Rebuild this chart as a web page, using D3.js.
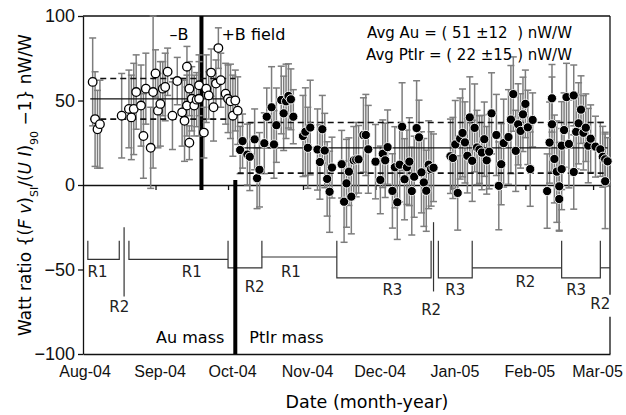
<!DOCTYPE html>
<html>
<head>
<meta charset="utf-8">
<script src="https://cdn.jsdelivr.net/npm/d3@7"></script>
<style>
  body { margin: 0; background: #fff; }
  svg { display: block; font-family: "DejaVu Sans", sans-serif; }
</style>
</head>
<body>
<svg id="chart" width="626" height="415"></svg>
<script>
// Au mass (open circles)
const auDates = ["2004-08-06","2004-08-07","2004-08-08","2004-08-09","2004-08-18","2004-08-21","2004-08-22","2004-08-23","2004-08-24","2004-08-26","2004-08-27","2004-08-28","2004-08-30","2004-08-31",
  "2004-09-01","2004-09-02","2004-09-03","2004-09-04","2004-09-05","2004-09-06","2004-09-08","2004-09-10","2004-09-12","2004-09-13","2004-09-14","2004-09-14","2004-09-15","2004-09-15","2004-09-16","2004-09-17","2004-09-18","2004-09-19","2004-09-19",
  "2004-09-21","2004-09-22","2004-09-23","2004-09-24","2004-09-25","2004-09-26","2004-09-27","2004-09-28","2004-09-30","2004-10-01","2004-10-02","2004-10-03","2004-10-04","2004-10-05"];
const auValues = [61,39,33,36,41,45,40,45,55,47,29,57,22,55,
  66,44,48,57,58,67,41,61.5,43,38,47,70,57,25,51,47,50.5,59,51,
  31,57,53,66.5,46,60,81,62,54,51,49.5,41,50,44];
const auErrors = [26,28,23,26,25,23,25,27,22,24,25,21,24,45,
  14,22,25,16,20,14,20,14,20,24,18,12,16,10,19,18,16,18,22,
  15,20,14,14,20,14,12,16,18,20,22,24,18,20];

// PtIr mass (filled circles)
const ptDates = ["2004-10-06","2004-10-07","2004-10-09","2004-10-10","2004-10-12","2004-10-13","2004-10-14","2004-10-16","2004-10-17","2004-10-19","2004-10-20","2004-10-21","2004-10-23","2004-10-24","2004-10-25","2004-10-26","2004-10-27","2004-10-28",
  "2004-11-01","2004-11-02","2004-11-03","2004-11-04","2004-11-07","2004-11-08","2004-11-09","2004-11-10","2004-11-11","2004-11-12","2004-11-13","2004-11-17","2004-11-18","2004-11-19","2004-11-20","2004-11-21","2004-11-22","2004-11-23","2004-11-24","2004-11-26","2004-11-27","2004-11-28",
  "2004-12-01","2004-12-03","2004-12-04","2004-12-05","2004-12-06","2004-12-08","2004-12-09","2004-12-10","2004-12-11","2004-12-12","2004-12-13","2004-12-14","2004-12-15","2004-12-16","2004-12-17","2004-12-18","2004-12-19","2004-12-20","2004-12-21","2004-12-22","2004-12-23","2004-12-24","2004-12-25",
  "2005-01-01","2005-01-02","2005-01-03","2005-01-04","2005-01-05","2005-01-06","2005-01-07","2005-01-08","2005-01-09","2005-01-10","2005-01-11","2005-01-12","2005-01-13","2005-01-14","2005-01-15","2005-01-16","2005-01-17","2005-01-18","2005-01-20","2005-01-21","2005-01-22","2005-01-23","2005-01-25","2005-01-26","2005-01-27","2005-01-28","2005-01-29","2005-01-30","2005-01-31",
  "2005-02-01","2005-02-02","2005-02-03","2005-02-04","2005-02-10","2005-02-11","2005-02-12","2005-02-12","2005-02-13","2005-02-14","2005-02-15","2005-02-15","2005-02-16","2005-02-16","2005-02-17","2005-02-18","2005-02-19","2005-02-21","2005-02-21","2005-02-22","2005-02-23","2005-02-24","2005-02-25","2005-02-26","2005-02-27","2005-02-28",
  "2005-03-02","2005-03-04","2005-03-05","2005-03-06","2005-03-06","2005-03-07"];
const ptValues = [20.7,26,18,16.7,27,4,9,24.7,40.4,46,24,35.4,50.3,42.4,49.5,52.7,50.7,40.4,
  29,31.5,22,34,21,13.6,33,20.4,3.6,-4,10.3,12.3,-9.9,1,7.9,-6.9,14.6,15,15.2,29.6,29.6,21.1,
  13.8,3,18.5,14.6,22.4,-3.5,10.5,-10.2,12,34.5,3.4,10.5,13.8,-3.6,4.9,33.7,28.2,7.5,1.5,-3.4,12,9.5,10.2,
  17,16,24,-4.7,27.5,30.8,25.2,17.3,40,14.3,33.8,22.2,21,19.2,27.1,14.6,19.7,42.4,29.6,-0.5,12.3,24.8,28.4,38.7,53.8,20.2,35.9,32,41.8,
  48,34.1,9.4,38.5,-3.6,25.1,35.9,51.3,15.4,7.9,-0.8,-8.3,23.3,9.4,32.5,52,24.3,7.7,53,31.5,36.5,44.6,30.9,33.9,23.3,27.4,
  22.7,21.1,16.7,15.2,2.2,14];
const ptErrors = [14,16,18,20,18,18,22,18,17,24,20,22,20,22,22,19,18,16,
  24,26,24,28,24,22,20,22,22,24,18,20,24,26,20,22,20,22,20,22,24,26,
  22,20,20,22,22,22,24,22,22,26,24,22,26,26,24,28,22,24,26,24,26,22,20,
  22,24,26,22,24,26,24,22,24,24,26,22,20,22,22,20,22,24,24,26,24,26,28,32,22,24,24,22,22,
  20,22,22,16,22,24,28,20,26,30,26,19,26,24,22,20,26,22,18,22,24,20,22,20,22,20,
  18,16,18,16,28,14];

const auMean = 51, auSd = 12;
const ptMean = 22, ptSd = 15;
const auSpan = ["2004-08-05", "2004-10-04"];
const ptSpan = ["2004-10-05", "2005-03-07"];
const fieldChange = "2004-09-20";
const massChange = "2004-10-04";

const monthStarts = ["2004-08-01","2004-09-01","2004-10-01","2004-11-01","2004-12-01","2005-01-01","2005-02-01","2005-03-01"];
const monthLabels = ["Aug-04","Sep-04","Oct-04","Nov-04","Dec-04","Jan-05","Feb-05","Mar-05"];
const yTicks = [-100, -50, 0, 50, 100];

// run brackets (date, value) and their labels
const runLines = [
  [["2004-08-04",-33],["2004-08-04",-44],["2004-08-17",-44],["2004-08-17",-33]],
  [["2004-08-19",-25],["2004-08-19",-66]],
  [["2004-08-21",-33],["2004-08-21",-44],["2004-10-01",-44]],
  [["2004-10-01",-33],["2004-10-01",-49],["2004-10-15",-49],["2004-10-15",-33]],
  [["2004-10-15",-42.6],["2004-11-15",-42.6]],
  [["2004-11-15",-33],["2004-11-15",-55],["2004-12-24",-55],["2004-12-24",-33]],
  [["2004-12-25",-22],["2004-12-25",-63]],
  [["2004-12-27",-33],["2004-12-27",-55],["2005-01-10",-55],["2005-01-10",-33]],
  [["2005-01-10",-49],["2005-02-16",-49]],
  [["2005-02-16",-33],["2005-02-16",-55],["2005-03-04",-55],["2005-03-04",-33]],
  [["2005-03-04",-49],["2005-03-08",-49]]
];
const runLabels = ["R1","R2","R1","R2","R1","R3","R2","R3","R2","R3","R2"];
const runLabelDates = ["2004-08-08","2004-08-17","2004-09-16","2004-10-12","2004-10-27","2004-12-08","2004-12-24","2005-01-03","2005-02-01","2005-02-22","2005-03-04"];
const runLabelValues = [-54.4,-75,-54.4,-63.3,-54.4,-65,-77,-65,-60.4,-65,-73.4];

const parse = d3.timeParse("%Y-%m-%d");
const svg = d3.select("#chart");

const x = d3.scaleTime()
  .domain([parse("2004-08-02"), parse("2005-03-08")])
  .range([83, 610]);
const y = d3.scaleLinear().domain([-100, 100]).range([354, 16]);

const black = "#111";
const grey = "#7d7d7d";

// frame: top and right border (right one broken round the last R2 label)
svg.append("line")
  .attr("x1", x.range()[0]).attr("x2", x.range()[1])
  .attr("y1", y(100)).attr("y2", y(100))
  .attr("stroke", black).attr("stroke-width", 1.3);
[[100, -65], [-78, -100]].forEach(([a, b]) => {
  svg.append("line")
    .attr("x1", x.range()[1]).attr("x2", x.range()[1])
    .attr("y1", y(a)).attr("y2", y(b))
    .attr("stroke", black).attr("stroke-width", 1.3);
});

// y axis
const yAxis = svg.append("g")
  .attr("transform", `translate(${x.range()[0]},0)`)
  .call(d3.axisLeft(y).tickValues(yTicks).tickSize(5).tickSizeOuter(0).tickPadding(3).tickFormat(d3.format("d")));
yAxis.selectAll("text").style("font-size", "18px").attr("fill", black);

// zero line with month ticks
svg.append("g")
  .attr("transform", `translate(0,${y(0)})`)
  .call(d3.axisBottom(x).tickValues(monthStarts.slice(1).map(parse)).tickSize(5).tickSizeOuter(0).tickFormat(""));

// bottom axis with month labels
const xAxis = svg.append("g")
  .attr("transform", `translate(0,${y(-100)})`)
  .call(d3.axisBottom(x).tickValues(monthStarts.map(parse)).tickSize(0).tickSizeOuter(0).tickPadding(12)
    .tickFormat((d, i) => monthLabels[i]));
xAxis.selectAll("text").style("font-size", "16px").attr("dx", 4).attr("fill", black);

svg.selectAll(".domain, .tick line").attr("stroke", black).attr("stroke-width", 1.3);

// run brackets
const runLine = d3.line().x(d => x(parse(d[0]))).y(d => y(d[1]));
svg.append("g").selectAll("path")
  .data(runLines)
  .join("path")
  .attr("d", runLine)
  .attr("fill", "none")
  .attr("stroke", "#333")
  .attr("stroke-width", 1.2);

svg.append("g").selectAll("text")
  .data(runLabels)
  .join("text")
  .attr("x", (d, i) => x(parse(runLabelDates[i])))
  .attr("y", (d, i) => y(runLabelValues[i]))
  .attr("text-anchor", "middle")
  .style("font-size", "15px")
  .attr("fill", "#222")
  .text(d => d);

// field and mass dividers
svg.append("line")
  .attr("x1", x(parse(fieldChange))).attr("x2", x(parse(fieldChange)))
  .attr("y1", y(100)).attr("y2", y(-3))
  .attr("stroke", "#000").attr("stroke-width", 4);
svg.append("line")
  .attr("x1", x(parse(massChange))).attr("x2", x(parse(massChange)))
  .attr("y1", y(3)).attr("y2", y(-100))
  .attr("stroke", "#000").attr("stroke-width", 4);

// error bars
const au = auDates.map((d, i) => ({ date: parse(d), value: auValues[i], err: auErrors[i] }));
const pt = ptDates.map((d, i) => ({ date: parse(d), value: ptValues[i], err: ptErrors[i] }));

function drawErrors(data) {
  const g = svg.append("g").attr("stroke", grey).attr("stroke-width", 1.5);
  const bars = g.selectAll("g").data(data).join("g");
  bars.append("line")
    .attr("x1", d => x(d.date)).attr("x2", d => x(d.date))
    .attr("y1", d => y(d.value - d.err)).attr("y2", d => y(d.value + d.err));
  bars.append("line")
    .attr("x1", d => x(d.date) - 3.5).attr("x2", d => x(d.date) + 3.5)
    .attr("y1", d => y(d.value + d.err)).attr("y2", d => y(d.value + d.err));
  bars.append("line")
    .attr("x1", d => x(d.date) - 3.5).attr("x2", d => x(d.date) + 3.5)
    .attr("y1", d => y(d.value - d.err)).attr("y2", d => y(d.value - d.err));
}
drawErrors(au);
drawErrors(pt);

// mean and +-1 sd lines
function meanLines(span, mean, sd) {
  const x1 = x(parse(span[0])), x2 = x(parse(span[1]));
  [[mean, null], [mean + sd, "6,4"], [mean - sd, "6,4"]].forEach(([v, dash]) => {
    svg.append("line")
      .attr("x1", x1).attr("x2", x2)
      .attr("y1", y(v)).attr("y2", y(v))
      .attr("stroke", black)
      .attr("stroke-width", dash ? 1.6 : 1.2)
      .attr("stroke-dasharray", dash);
  });
}
meanLines(auSpan, auMean, auSd);
meanLines(ptSpan, ptMean, ptSd);

// points
svg.append("g").selectAll("circle")
  .data(au)
  .join("circle")
  .attr("cx", d => x(d.date))
  .attr("cy", d => y(d.value))
  .attr("r", 4.3)
  .attr("fill", "#fff")
  .attr("stroke", "#000")
  .attr("stroke-width", 1.3);

svg.append("g").selectAll("circle")
  .data(pt)
  .join("circle")
  .attr("cx", d => x(d.date))
  .attr("cy", d => y(d.value))
  .attr("r", 4.6)
  .attr("fill", "#000")
  .attr("stroke", "#fff")
  .attr("stroke-width", 0.9);

// annotations
const fx = x(parse(fieldChange));
svg.append("text").attr("x", fx - 13).attr("y", 40).attr("text-anchor", "end")
  .style("font-size", "16px").text("\u2013B");
svg.append("text").attr("x", fx + 20).attr("y", 40)
  .style("font-size", "16px").text("+B field");

svg.append("text").attr("x", 572).attr("y", 38).attr("text-anchor", "end")
  .style("font-size", "15px").attr("xml:space", "preserve")
  .text(`Avg Au = ( ${auMean} \u00b1${auSd}  ) nW/W`);
svg.append("text").attr("x", 572).attr("y", 60).attr("text-anchor", "end")
  .style("font-size", "15px").attr("xml:space", "preserve")
  .text(`Avg PtIr = ( ${ptMean} \u00b1${ptSd} ) nW/W`);

const mx = x(parse(massChange));
svg.append("text").attr("x", mx - 11).attr("y", 343).attr("text-anchor", "end")
  .style("font-size", "16px").text("Au mass");
svg.append("text").attr("x", mx + 14).attr("y", 343)
  .style("font-size", "16px").text("PtIr mass");

// axis titles
svg.append("text")
  .attr("x", 367).attr("y", 408)
  .attr("text-anchor", "middle")
  .style("font-size", "17.5px")
  .text("Date (month-year)");

const yt = svg.append("text")
  .attr("transform", "translate(31,185) rotate(-90)")
  .attr("text-anchor", "middle")
  .style("font-size", "17px");
yt.append("tspan").text("Watt ratio {(");
yt.append("tspan").style("font-style", "italic").text("F v");
yt.append("tspan").text(")");
yt.append("tspan").attr("baseline-shift", "sub").style("font-size", "11px").text("SI");
yt.append("tspan").text("/(");
yt.append("tspan").style("font-style", "italic").text("U I");
yt.append("tspan").text(")");
yt.append("tspan").attr("baseline-shift", "sub").style("font-size", "11px").text("90");
yt.append("tspan").text(" \u22121} nW/W");
</script>
</body>
</html>
